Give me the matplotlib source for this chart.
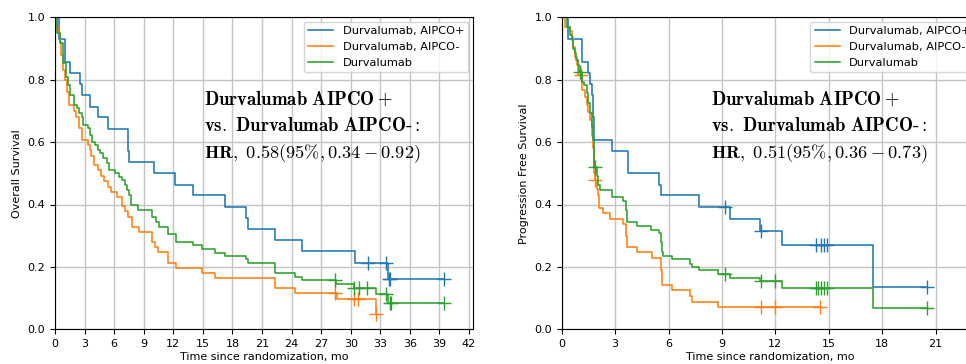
import numpy as np
import matplotlib
matplotlib.use("Agg")
import matplotlib.pyplot as plt

plt.rcParams['mathtext.fontset'] = 'cm'
plt.rcParams['font.family'] = ['DejaVu Sans']

labels = ["Durvalumab, AIPCO+", "Durvalumab, AIPCO-", "Durvalumab"]
colors = ["#1f77b4", "#ff7f0e", "#2ca02c"]

# ---------------- Overall survival (left) ----------------
os_pos_t = [0.37, 1.0, 1.52, 2.54, 2.78, 3.55, 4.4, 5.4, 7.38, 7.55, 10.05, 12.15, 13.95, 17.2,
            19.4, 19.6, 22.3, 25.1, 30.4, 33.8]
os_pos_s = [0.929, 0.857, 0.821, 0.786, 0.75, 0.714, 0.679, 0.643, 0.571, 0.536, 0.5, 0.464, 0.429,
            0.393, 0.357, 0.321, 0.286, 0.25, 0.214, 0.161]
os_pos_c = [31.7, 33.6, 33.9, 34.0, 39.5]

os_neg_t = [0.17, 0.35, 0.5, 0.65, 0.85, 1.0, 1.2, 1.42, 1.95, 2.1, 2.4, 2.7, 3.3, 3.5, 3.7, 4.0,
            4.4, 4.7, 5.0, 5.4, 5.7, 6.3, 6.8, 7.1, 7.45, 7.85, 8.55, 9.88, 10.15, 10.45, 11.44,
            12.25, 14.9, 16.2, 22.3, 24.3, 28.6, 32.6]
os_neg_s = [0.97, 0.95, 0.92, 0.88, 0.83, 0.80, 0.76, 0.72, 0.70, 0.68, 0.645, 0.607, 0.59, 0.575,
            0.555, 0.527, 0.51, 0.49, 0.475, 0.457, 0.441, 0.425, 0.395, 0.38, 0.361, 0.329, 0.313,
            0.281, 0.263, 0.247, 0.214, 0.197, 0.18, 0.164, 0.133, 0.115, 0.097, 0.048]
os_neg_c = [28.4, 30.3, 30.7, 32.6]

os_all_t = [0.24, 0.51, 0.85, 1.08, 1.35, 1.52, 1.93, 2.2, 2.47, 2.71, 2.88, 3.38, 3.55, 3.72, 4.06,
            4.4, 4.57, 4.9, 5.25, 5.52, 6.09, 6.53, 6.77, 7.1, 7.34, 7.55, 7.72, 8.39, 9.88, 10.2,
            10.5, 11.44, 12.25, 13.98, 14.95, 16.2, 17.2, 19.4, 19.6, 22.3, 24.3, 25.1, 28.5, 30.3,
            32.6, 33.8]
os_all_s = [0.95, 0.917, 0.853, 0.81, 0.783, 0.751, 0.719, 0.708, 0.692, 0.68, 0.655, 0.644, 0.623,
            0.601, 0.591, 0.575, 0.564, 0.548, 0.532, 0.511, 0.5, 0.489, 0.479, 0.462, 0.446, 0.43,
            0.398, 0.382, 0.361, 0.343, 0.327, 0.304, 0.281, 0.27, 0.257, 0.246, 0.235, 0.224,
            0.212, 0.18, 0.169, 0.158, 0.146, 0.133, 0.112, 0.085]
os_all_c = [28.4, 30.35, 30.8, 31.6, 33.6, 33.95, 34.05, 39.5]

# ---------------- Progression free survival (right) ----------------
pfs_pos_t = [0.37, 1.12, 1.46, 1.59, 1.72, 1.76, 1.78, 1.8, 1.83, 2.81, 3.72, 3.74, 5.48, 5.58,
             7.73, 9.46, 11.15, 12.39, 17.5]
pfs_pos_s = [0.929, 0.857, 0.821, 0.786, 0.75, 0.714, 0.679, 0.643, 0.607, 0.571, 0.536, 0.5,
             0.464, 0.429, 0.393, 0.354, 0.314, 0.27, 0.135]
pfs_pos_c = [9.17, 11.2, 14.29, 14.57, 14.75, 14.89, 20.5]

pfs_neg_t = [0.19, 0.45, 0.56, 0.65, 0.75, 0.85, 0.93, 1.15, 1.3, 1.4, 1.5, 1.6, 1.69, 1.72, 1.75,
             1.77, 1.79, 1.81, 1.83, 1.85, 2.0, 2.02, 2.1, 2.34, 2.71, 3.43, 3.61, 3.69, 4.21, 5.06,
             5.58, 5.62, 5.65, 6.21, 7.21, 7.34, 8.76]
pfs_neg_s = [0.97, 0.955, 0.938, 0.906, 0.874, 0.847, 0.815, 0.767, 0.745, 0.72, 0.697, 0.67,
             0.639, 0.62, 0.60, 0.58, 0.555, 0.53, 0.5, 0.48, 0.45, 0.43, 0.388, 0.374, 0.354,
             0.336, 0.30, 0.265, 0.249, 0.23, 0.19, 0.16, 0.142, 0.126, 0.107, 0.089, 0.073]
pfs_neg_c = [1.07, 1.87, 11.2, 11.98, 14.5]

pfs_all_t = [0.28, 0.47, 0.56, 0.65, 0.75, 0.8, 0.9, 0.97, 1.12, 1.27, 1.4, 1.5, 1.6, 1.69, 1.75,
             1.8, 1.83, 1.96, 2.02, 2.15, 2.81, 3.43, 3.61, 3.69, 4.21, 5.02, 5.48, 5.58, 5.65,
             5.71, 6.21, 7.21, 7.34, 7.71, 8.76, 9.46, 11.15, 12.39, 17.5]
pfs_all_s = [0.97, 0.943, 0.927, 0.897, 0.885, 0.863, 0.847, 0.826, 0.794, 0.783, 0.756, 0.724,
             0.692, 0.65, 0.607, 0.564, 0.521, 0.49, 0.462, 0.446, 0.425, 0.411, 0.382, 0.343,
             0.331, 0.318, 0.308, 0.281, 0.249, 0.236, 0.225, 0.208, 0.2, 0.19, 0.176, 0.163,
             0.155, 0.133, 0.069]
pfs_all_c = [1.03, 1.87, 9.17, 11.2, 11.98, 14.29, 14.42, 14.57, 14.75, 14.89, 20.5]

os_xticks = list(range(0, 43, 3))
pfs_xticks = list(range(0, 22, 3))
yticks = [0.0, 0.2, 0.4, 0.6, 0.8, 1.0]

os_text = [r'$\mathbf{Durvalumab\ AIPCO+}$',
           r'$\mathbf{vs.\ Durvalumab\ AIPCO\text{-}:}$',
           r'$\mathbf{HR,}\ 0.58(95\%, 0.34-0.92)$']
pfs_text = [r'$\mathbf{Durvalumab\ AIPCO+}$',
            r'$\mathbf{vs.\ Durvalumab\ AIPCO\text{-}:}$',
            r'$\mathbf{HR,}\ 0.51(95\%, 0.36-0.73)$']

W, H = 966, 364
fig = plt.figure(figsize=(W / 100, H / 100), dpi=100)
axL = fig.add_axes([55 / W, (364 - 329.3) / H, 418 / W, 312 / H])
axR = fig.add_axes([561.7 / W, (364 - 329.3) / H, 418 / W, 312 / H])


def km(ax, t, s, c, color, label):
    tt = np.array([0.0] + list(t))
    ss = np.array([1.0] + list(s))
    end = max(max(c), tt[-1])
    xs = np.append(tt, end)
    ys = np.append(ss, ss[-1])
    line, = ax.step(xs, ys, where='post', color=color, lw=1.15, label=label)
    idx = np.searchsorted(tt, np.array(c), side='right') - 1
    ax.plot(c, ss[idx], ls='none', marker='+', ms=10, mew=1.0, color=color)
    return line


def style(ax, xticks, xmax, ylabel, texts):
    ax.set_xlim(0, xmax)
    ax.set_ylim(0, 1.0)
    ax.set_xticks(xticks)
    ax.set_yticks(yticks)
    ax.grid(True, color='#c4c4c4', lw=1.0)
    ax.set_axisbelow(True)
    ax.tick_params(labelsize=8, length=3.5, width=0.8)
    ax.set_xlabel('Time since randomization, mo', fontsize=8, labelpad=2)
    ax.set_ylabel(ylabel, fontsize=8, labelpad=4)
    ax.legend(loc='upper right', fontsize=8.2, framealpha=0.8, borderaxespad=0.4,
              handlelength=2.2)
    ys = [0.7205, 0.6356, 0.549]
    sizes = [13.5, 13.5, 13.2]
    for txt, y, fs in zip(texts, ys, sizes):
        ax.text(0.3565, y, txt, transform=ax.transAxes, fontsize=fs, va='baseline', ha='left')


km(axL, os_pos_t, os_pos_s, os_pos_c, colors[0], labels[0])
km(axL, os_neg_t, os_neg_s, os_neg_c, colors[1], labels[1])
km(axL, os_all_t, os_all_s, os_all_c, colors[2], labels[2])
style(axL, os_xticks, 42.4, 'Overall Survival', os_text)

km(axR, pfs_pos_t, pfs_pos_s, pfs_pos_c, colors[0], labels[0])
km(axR, pfs_neg_t, pfs_neg_s, pfs_neg_c, colors[1], labels[1])
km(axR, pfs_all_t, pfs_all_s, pfs_all_c, colors[2], labels[2])
style(axR, pfs_xticks, 418 / 17.8, 'Progression Free Survival', pfs_text)

fig.savefig('out.png', dpi=100)
